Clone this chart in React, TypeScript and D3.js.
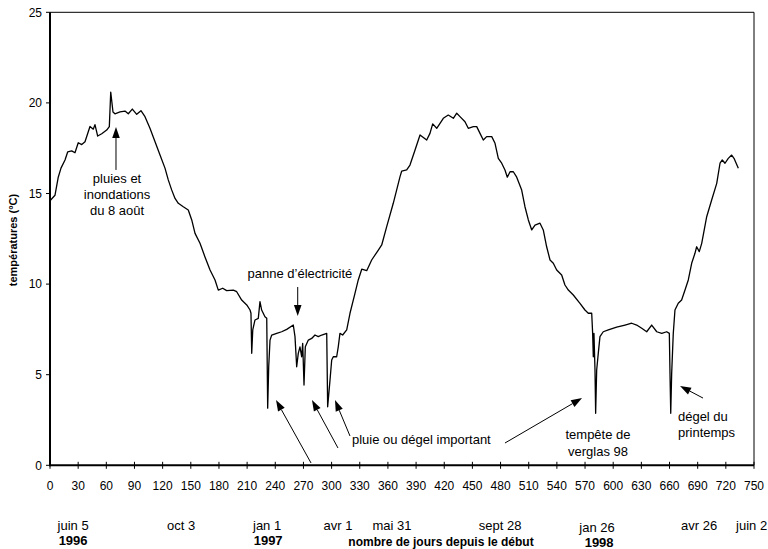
import React from "react";
import * as d3 from "d3";

const days = [0, 5.3, 8.8, 11.7, 16, 18.9, 23.1, 26.6, 30.1, 33.8, 37.3, 42.6, 46.1, 47.9, 50.8, 55.1, 60.4, 63.2, 64.7, 67.1, 69.2, 74.6, 79.9, 83.4, 87.7, 92.4, 96.9, 101.2, 106.5, 111.9, 117.2, 122.5, 126, 129.6, 133.2, 136.7, 142, 147.3, 151, 154.5, 159.8, 165.1, 170.5, 175.8, 179.3, 184, 188.2, 195.3, 198.9, 204.2, 209.6, 213.1, 214.1, 214.9, 216, 218.4, 221.9, 223.7, 225.5, 229, 230.9, 231.9, 233, 234.4, 236.2, 241.5, 246.8, 252.2, 259.2, 261, 262.8, 264.5, 266.3, 268.1, 269.2, 270.6, 272, 275.2, 278.8, 282.3, 285.8, 289.5, 294.8, 295.8, 298.3, 300.1, 301.8, 305.4, 307.1, 308.9, 311.8, 316.1, 319.6, 324.9, 328.4, 332.1, 337.4, 342.7, 349.8, 353.4, 358.7, 365.7, 372.9, 374.7, 380, 383.5, 388.9, 394.2, 401.3, 404.8, 407.7, 412, 415.5, 419, 424.3, 429.7, 433.3, 436.8, 442.1, 445.6, 451, 454.6, 458.1, 461.6, 465.2, 470.6, 474.1, 477.6, 481.2, 484.7, 487.2, 490.1, 493.6, 497.2, 502.5, 506, 509.6, 513.2, 516.7, 522, 525.5, 529.1, 532.7, 536.2, 539.8, 545.1, 548.6, 552.2, 557.5, 564.6, 569.9, 573.5, 577.1, 578.1, 578.8, 579.5, 580.6, 581.3, 582.4, 584.1, 585.9, 589.4, 594.8, 603.7, 612.6, 619.7, 625, 630.4, 635.7, 641, 646.4, 651.7, 657, 659.8, 660.5, 661.3, 662.3, 664, 665.8, 669.3, 672.9, 676.5, 680, 683.6, 687.1, 688.9, 691.7, 694.3, 699.6, 704.9, 710.3, 713.8, 716.2, 719.1, 722.6, 726.2, 728.7, 733.3];

const temps = [14.6, 14.9, 15.9, 16.4, 16.85, 17.3, 17.35, 17.25, 17.8, 17.7, 17.86, 18.7, 18.55, 18.8, 18.17, 18.3, 18.5, 18.69, 20.6, 19.5, 19.4, 19.5, 19.55, 19.4, 19.66, 19.37, 19.57, 19.24, 18.6, 17.86, 17.12, 16.4, 15.75, 15.2, 14.73, 14.46, 14.27, 14.09, 13.54, 12.8, 12.25, 11.5, 10.78, 10.23, 9.67, 9.77, 9.64, 9.67, 9.58, 9.12, 8.85, 8.57, 8.39, 6.18, 7.47, 8.02, 8.11, 9.03, 8.57, 8.2, 8.11, 3.15, 5.44, 6.91, 7.19, 7.28, 7.37, 7.5, 7.74, 7.1, 5.44, 6.18, 6.54, 5.99, 6.73, 4.43, 6.54, 6.91, 7.0, 7.19, 7.1, 7.19, 7.28, 3.23, 4.7, 5.81, 5.99, 5.99, 6.54, 7.28, 7.19, 7.47, 8.39, 9.49, 10.23, 10.82, 10.74, 11.33, 11.88, 12.16, 13.17, 14.46, 15.93, 16.24, 16.3, 16.57, 17.4, 18.23, 17.95, 18.32, 18.84, 18.6, 18.87, 19.15, 19.33, 19.15, 19.43, 19.24, 18.96, 18.6, 18.69, 18.69, 18.32, 17.95, 18.14, 18.14, 17.77, 16.94, 16.67, 16.3, 15.9, 16.2, 16.2, 15.9, 15.19, 14.27, 13.54, 12.99, 13.26, 13.36, 12.99, 12.06, 11.33, 11.15, 10.78, 10.5, 9.95, 9.67, 9.4, 8.94, 8.57, 8.39, 8.39, 7.28, 5.99, 7.28, 5.26, 2.87, 5.26, 6.18, 7.1, 7.37, 7.47, 7.62, 7.74, 7.84, 7.74, 7.56, 7.37, 7.74, 7.37, 7.28, 7.37, 7.28, 5.08, 2.87, 5.08, 7.28, 8.57, 8.94, 9.12, 9.67, 10.23, 11.15, 11.7, 12.06, 11.79, 12.25, 13.72, 14.64, 15.56, 16.67, 16.85, 16.67, 16.94, 17.12, 16.94, 16.39];

const xTicks = d3.range(0, 751, 30);
const yTicks = [0, 5, 10, 15, 20, 25];

// date labels (placed at day positions along the axis)
const dateLabels = ["juin 5", "oct 3", "jan 1", "avr 1", "mai 31", "sept 28", "jan 26", "avr 26", "juin 2"];
const dateLabelDays = [24.6, 139.6, 231.3, 306.9, 364.4, 479.5, 582.8, 691.6, 747.5];
const yearLabels = ["1996", "1997", "1998"];
const yearLabelDays = [24.6, 232.4, 585.0];

const annotLines1 = ["pluies et", "inondations", "du 8 août"];
const annotLines2 = ["tempête de", "verglas 98"];
const annotLines3 = ["dégel du", "printemps"];

export default function App() {
  const W = 768, H = 549;
  const x = d3.scaleLinear().domain([0, 750]).range([50, 754]);
  const y = d3.scaleLinear().domain([0, 25]).range([465.3, 12.3]);
  const pts = days.map((d, i) => [d, temps[i]] as [number, number]);
  const line = d3.line<[number, number]>().x(d => x(d[0])).y(d => y(d[1]));
  const font = "'Liberation Sans', Arial, Helvetica, sans-serif";

  const arrow = (x1: number, y1: number, x2: number, y2: number, key: string) => {
    // tail (x1,y1) in data units -> tip (x2,y2)
    const px1 = x(x1), py1 = y(y1), px2 = x(x2), py2 = y(y2);
    const ang = Math.atan2(py2 - py1, px2 - px1);
    const L = 11, Wd = 3.8;
    const bx = px2 - L * Math.cos(ang), by = py2 - L * Math.sin(ang);
    const nx = -Math.sin(ang), ny = Math.cos(ang);
    const head = `M${px2},${py2}L${bx + nx * Wd},${by + ny * Wd}L${bx - nx * Wd},${by - ny * Wd}Z`;
    return (
      <g key={key}>
        <line x1={px1} y1={py1} x2={bx} y2={by} stroke="#000" strokeWidth={1} />
        <path d={head} fill="#000" />
      </g>
    );
  };

  return (
    <svg width={W} height={H} style={{ position: "absolute", left: 0, top: 0, background: "#fff" }} fontFamily={font}>
      <rect x={0} y={0} width={W} height={H} fill="#fff" />
      {/* frame top/right */}
      <line x1={x(0)} y1={y(25)} x2={x(750)} y2={y(25)} stroke="#000" strokeWidth={1} />
      <line x1={x(750)} y1={y(25)} x2={x(750)} y2={y(0)} stroke="#000" strokeWidth={1} />
      {/* y axis */}
      <line x1={x(0)} y1={y(25)} x2={x(0)} y2={y(0) + 1} stroke="#000" strokeWidth={2} />
      {yTicks.map(t => (
        <g key={"yt" + t}>
          <line x1={x(0) - 4} x2={x(0)} y1={y(t)} y2={y(t)} stroke="#000" strokeWidth={1} />
          <text x={x(0) - 8} y={y(t)} dy="0.35em" textAnchor="end" fontSize={12}>{t}</text>
        </g>
      ))}
      {/* x axis */}
      <line x1={x(0) - 1} y1={y(0)} x2={x(750)} y2={y(0)} stroke="#000" strokeWidth={2} />
      {xTicks.map(t => (
        <g key={"xt" + t}>
          <line x1={x(t)} x2={x(t)} y1={y(0) - 3.5} y2={y(0) + 3.5} stroke="#000" strokeWidth={1} />
          <text x={x(t)} y={489.5} textAnchor="middle" fontSize={12}>{t}</text>
        </g>
      ))}
      {/* data line */}
      <path d={line(pts) || ""} fill="none" stroke="#000" strokeWidth={1.3} strokeLinejoin="round" />

      {/* date labels */}
      {dateLabels.map((l, i) => (
        <text key={"dl" + i} x={x(dateLabelDays[i])} y={l === "jan 26" ? 532 : 530} textAnchor="middle" fontSize={13}>{l}</text>
      ))}
      {yearLabels.map((l, i) => (
        <text key={"yl" + i} x={x(yearLabelDays[i])} y={i === 2 ? 546.5 : 545} textAnchor="middle" fontSize={13} fontWeight="bold">{l}</text>
      ))}
      <text x={441} y={545.5} textAnchor="middle" fontSize={12} fontWeight="bold">nombre de jours depuis le début</text>
      <text transform={`translate(17,240) rotate(-90)`} textAnchor="middle" fontSize={11} fontWeight="bold">températures (°C)</text>

      {/* annotations */}
      {annotLines1.map((l, i) => (
        <text key={"a1" + i} x={x(71.4)} y={y(15.58) + i * 16} textAnchor="middle" fontSize={13}>{l}</text>
      ))}
      {arrow(70.3, 16.3, 70.3, 18.67, "ar1")}
      <text x={x(266.3)} y={y(10.34)} textAnchor="middle" fontSize={13}>panne d’électricité</text>
      {arrow(263.9, 9.84, 263.9, 8.24, "ar2")}
      <text x={x(321.7)} y={y(1.176)} textAnchor="start" fontSize={13}>pluie ou dégel important</text>
      {arrow(278.1, 0.127, 240.8, 3.6, "ar3")}
      {arrow(306.8, 0.955, 279.1, 3.6, "ar4")}
      {arrow(319.6, 1.617, 303.6, 3.6, "ar5")}
      {arrow(484.7, 1.23, 566.8, 3.71, "ar6")}
      {annotLines2.map((l, i) => (
        <text key={"a2" + i} x={x(583.8)} y={y(1.45) + i * 16.5} textAnchor="middle" fontSize={13}>{l}</text>
      ))}
      {annotLines3.map((l, i) => (
        <text key={"a3" + i} x={x(669.0)} y={y(2.45) + i * 16} textAnchor="start" fontSize={13}>{l}</text>
      ))}
      {arrow(695.7, 3.71, 671.2, 4.38, "ar7")}
    </svg>
  );
}
